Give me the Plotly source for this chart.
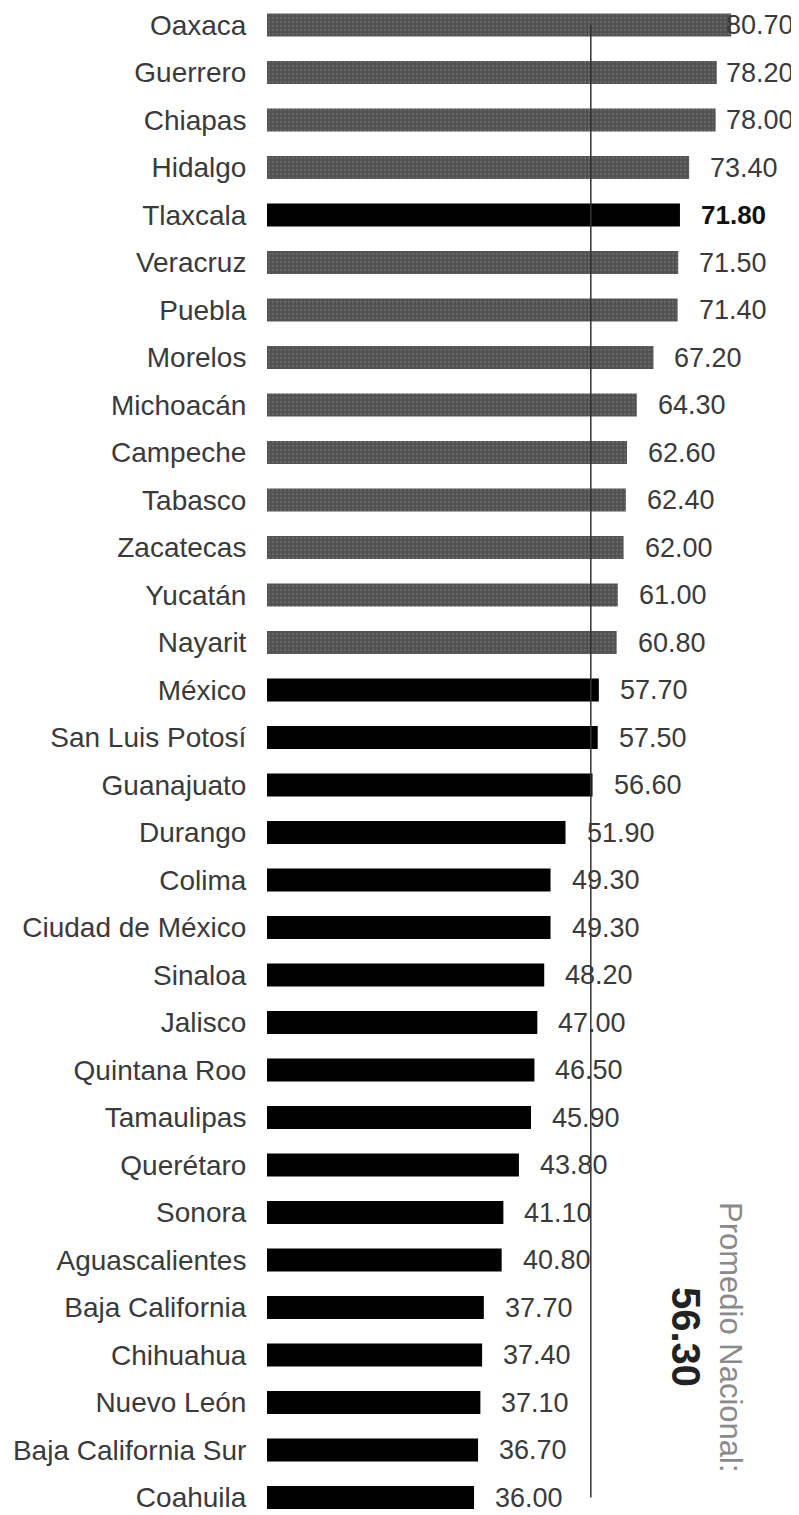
import plotly.graph_objects as go

states = ["Oaxaca", "Guerrero", "Chiapas", "Hidalgo", "Tlaxcala", "Veracruz", "Puebla",
          "Morelos", "Michoacán", "Campeche", "Tabasco", "Zacatecas", "Yucatán", "Nayarit",
          "México", "San Luis Potosí", "Guanajuato", "Durango", "Colima", "Ciudad de México",
          "Sinaloa", "Jalisco", "Quintana Roo", "Tamaulipas", "Querétaro", "Sonora",
          "Aguascalientes", "Baja California", "Chihuahua", "Nuevo León",
          "Baja California Sur", "Coahuila"]
values = [80.70, 78.20, 78.00, 73.40, 71.80, 71.50, 71.40, 67.20, 64.30, 62.60, 62.40,
          62.00, 61.00, 60.80, 57.70, 57.50, 56.60, 51.90, 49.30, 49.30, 48.20, 47.00,
          46.50, 45.90, 43.80, 41.10, 40.80, 37.70, 37.40, 37.10, 36.70, 36.00]
highlight = "Tlaxcala"
national_avg = 56.30
gray_group = states[:14]

FONT = "Liberation Sans, Arial, sans-serif"
# page body has an 8px default margin, so the figure is sized to fit the window
W, H = 791, 1507
ML = 259
XMAX = 92.5
px_per_unit = (W - ML) / XMAX

is_gray = [s in gray_group and s != highlight for s in states]
gray_x = [v for v, g in zip(values, is_gray) if g]
gray_y = [s for s, g in zip(states, is_gray) if g]
black_x = [v for v, g in zip(values, is_gray) if not g]
black_y = [s for s, g in zip(states, is_gray) if not g]

fig = go.Figure()
fig.add_trace(go.Bar(
    x=gray_x, y=gray_y, orientation="h", width=0.48,
    marker=dict(color="#525252", line=dict(width=0),
                pattern=dict(shape=".", fgcolor="#7a7a7a", size=4, solidity=0.25)),
    showlegend=False, hoverinfo="x+y"))
fig.add_trace(go.Bar(
    x=black_x, y=black_y, orientation="h", width=0.48,
    marker=dict(color="#000000", line=dict(width=0)),
    showlegend=False, hoverinfo="x+y"))

label_max_left = 716
for s, v in zip(states, values):
    bold = s == highlight
    bar_end = ML + v * px_per_unit
    shift = min(19, label_max_left - bar_end)
    fig.add_annotation(
        x=v, y=s, xref="x", yref="y", xanchor="left", yanchor="middle",
        xshift=shift, showarrow=False,
        text=f"<b>{v:.2f}</b>" if bold else f"{v:.2f}",
        font=dict(family=FONT, size=27 if not bold else 26,
                  color="#111111" if bold else "#3a3a3a"))

fig.add_shape(type="line", xref="x", yref="y", x0=national_avg, x1=national_avg,
              y0=0, y1=31.0, line=dict(color="#333333", width=1.5), layer="above")

fig.add_annotation(x=1, y=1 - 1329 / H, xref="paper", yref="paper",
                   xanchor="center", yanchor="middle",
                   xshift=-(W - 723), showarrow=False, textangle=90,
                   text="Promedio Nacional:",
                   font=dict(family=FONT, size=31, color="#8a8a8a"))
fig.add_annotation(x=1, y=1 - 1329 / H, xref="paper", yref="paper",
                   xanchor="center", yanchor="middle",
                   xshift=-(W - 678), showarrow=False, textangle=90,
                   text=f"<b>{national_avg:.2f}</b>",
                   font=dict(family=FONT, size=40, color="#222222"))

fig.update_layout(
    width=W, height=H,
    margin=dict(l=ML, r=0, t=0, b=0),
    paper_bgcolor="white", plot_bgcolor="white",
    barmode="overlay",
    xaxis=dict(range=[0, XMAX], visible=False, fixedrange=True),
    yaxis=dict(type="category", categoryorder="array", categoryarray=states,
               range=[31.368, -0.358], showgrid=False, zeroline=False, showline=False,
               ticks="outside", ticklen=14, tickcolor="rgba(0,0,0,0)",
               automargin=False,
               tickfont=dict(family=FONT, size=28, color="#3a3a3a")),
)

fig.write_html("out.html")
